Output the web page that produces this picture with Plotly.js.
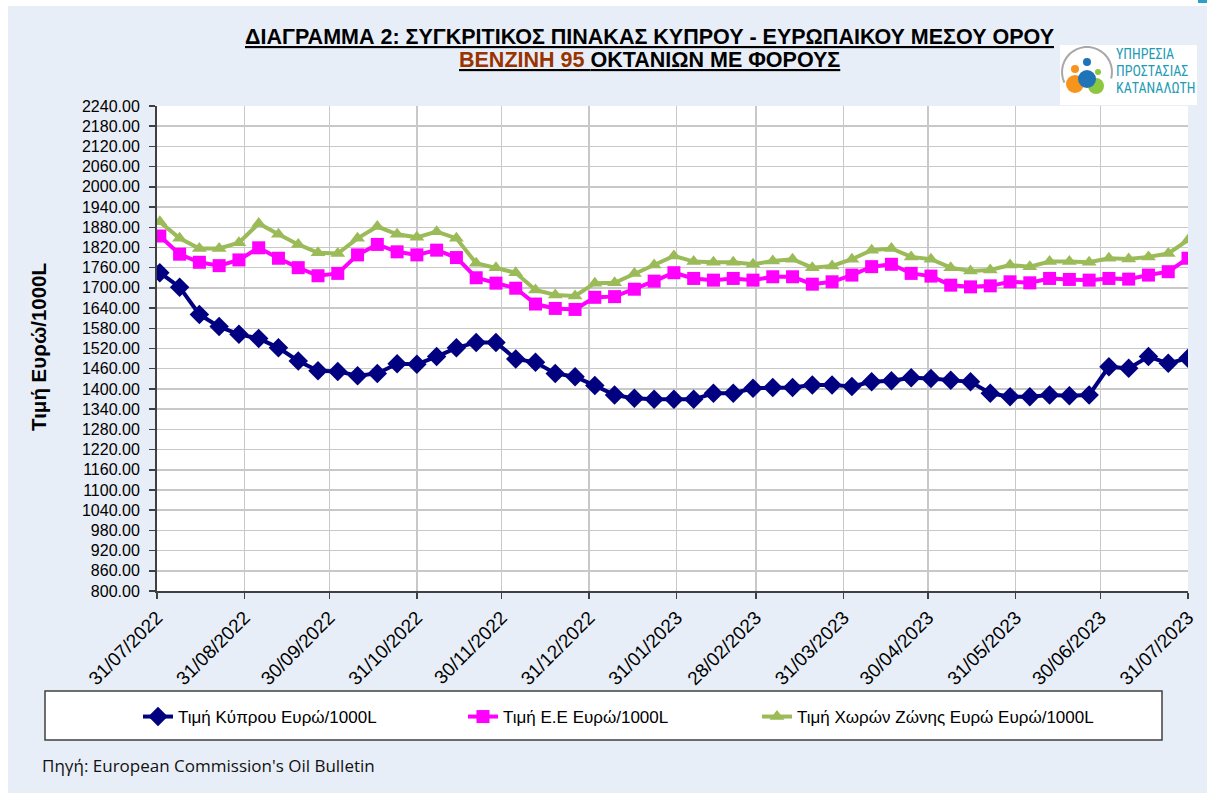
<!DOCTYPE html>
<html><head><meta charset="utf-8">
<script src="https://cdn.plot.ly/plotly-3.0.1.min.js"></script>
<style>html,body{margin:0;padding:0;background:#fff}#chart{width:1207px;height:793px}</style>
</head><body><div id="chart"></div>
<script>
const dates = ['2022-08-01','2022-08-08','2022-08-15','2022-08-22','2022-08-29',
 '2022-09-05','2022-09-12','2022-09-19','2022-09-26',
 '2022-10-03','2022-10-10','2022-10-17','2022-10-24','2022-10-31',
 '2022-11-07','2022-11-14','2022-11-21','2022-11-28',
 '2022-12-05','2022-12-12','2022-12-19','2022-12-26',
 '2023-01-02','2023-01-09','2023-01-16','2023-01-23','2023-01-30',
 '2023-02-06','2023-02-13','2023-02-20','2023-02-27',
 '2023-03-06','2023-03-13','2023-03-20','2023-03-27',
 '2023-04-03','2023-04-10','2023-04-17','2023-04-24',
 '2023-05-01','2023-05-08','2023-05-15','2023-05-22','2023-05-29',
 '2023-06-05','2023-06-12','2023-06-19','2023-06-26',
 '2023-07-03','2023-07-10','2023-07-17','2023-07-24','2023-07-31'];

const cyprus = [1745,1702,1621,1585,1562,1550,1522,1483,1454,1452,1439,1446,1475,
 1473,1496,1522,1538,1538,1489,1479,1446,1436,1410,1382,1372,1369,
 1369,1369,1387,1387,1402,1404,1404,1412,1412,1407,1421,1424,1433,
 1431,1426,1421,1387,1377,1377,1382,1380,1382,1466,1461,1496,1476,1491];

const eu = [1854,1800,1776,1766,1783,1819,1788,1760,1736,1743,1798,1829,1807,
 1798,1812,1790,1730,1714,1699,1652,1639,1636,1672,1674,1696,1720,
 1745,1728,1723,1728,1723,1733,1733,1711,1718,1738,1763,1770,1743,
 1735,1708,1703,1706,1718,1715,1728,1725,1723,1728,1726,1738,1748,1788];

const euroArea = [1896,1847,1817,1817,1834,1891,1859,1829,1804,1802,1847,1882,1859,
 1850,1867,1847,1773,1760,1745,1694,1679,1676,1714,1715,1743,1768,
 1795,1778,1776,1776,1770,1780,1785,1760,1765,1785,1812,1817,1792,
 1785,1760,1750,1753,1768,1763,1778,1778,1776,1788,1786,1792,1802,1842];

const seriesNames = ['Τιμή Κύπρου Ευρώ/1000L','Τιμή Ε.Ε Ευρώ/1000L','Τιμή Χωρών Ζώνης Ευρώ Ευρώ/1000L'];

const tickDates = ['2022-07-31','2022-08-31','2022-09-30','2022-10-31','2022-11-30','2022-12-31',
 '2023-01-31','2023-02-28','2023-03-31','2023-04-30','2023-05-31','2023-06-30','2023-07-31'];
const tickLabels = ['31/07/2022','31/08/2022','30/09/2022','31/10/2022','30/11/2022','31/12/2022',
 '31/01/2023','28/02/2023','31/03/2023','30/04/2023','31/05/2023','30/06/2023','31/07/2023'];

const titleLine1 = 'ΔΙΑΓΡΑΜΜΑ 2: ΣΥΓΚΡΙΤΙΚΟΣ ΠΙΝΑΚΑΣ ΚΥΠΡΟΥ - ΕΥΡΩΠΑΙΚΟΥ ΜΕΣΟΥ ΟΡΟΥ';
const titleLine2a = 'ΒΕΝΖΙΝΗ 95 ';
const titleLine2b = 'ΟΚΤΑΝΙΩΝ ΜΕ ΦΟΡΟΥΣ';
const yTitle = 'Τιμή Ευρώ/1000L';
const sourceText = "Πηγή: European Commission's Oil Bulletin";
const logoLines = ['ΥΠΗΡΕΣΙΑ','ΠΡΟΣΤΑΣΙΑΣ','ΚΑΤΑΝΑΛΩΤΗ'];

// pixel -> paper helpers (plot area 157..1188 x 106..591)
const L = 157, R = 1188, T = 106, B = 591;
const X = px => (px - L) / (R - L);
const Y = py => (B - py) / (B - T);

const FONT = 'Liberation Sans, Arial, sans-serif';

const traces = [
  {x: dates, y: cyprus, name: seriesNames[0], type: 'scatter', mode: 'lines+markers', legend: 'legend',
   line: {color: '#000080', width: 4}, marker: {symbol: 'diamond', size: 15, color: '#000080'}},
  {x: dates, y: eu, name: seriesNames[1], type: 'scatter', mode: 'lines+markers', legend: 'legend2',
   line: {color: '#ff00ff', width: 4}, marker: {symbol: 'square', size: 13, color: '#ff00ff'}},
  {x: dates, y: euroArea, name: seriesNames[2], type: 'scatter', mode: 'lines+markers', legend: 'legend3',
   line: {color: '#9bbb59', width: 4}, marker: {symbol: 'triangle-up', size: 13, color: '#9bbb59'}}
];

// logo ring arc points
const arcPts = [];
for (let a = 205; a >= -15; a -= 10) {
  const r = a * Math.PI / 180;
  arcPts.push([X(1087 + 25 * Math.cos(r)), Y(72 - 25 * Math.sin(r))]);
}
const arcPath = 'M' + arcPts.map(p => p[0].toFixed(5) + ',' + p[1].toFixed(5)).join(' L');

function circ(cx, cy, r, color) {
  return {type: 'circle', xref: 'paper', yref: 'paper', x0: X(cx - r), x1: X(cx + r),
    y0: Y(cy + r), y1: Y(cy - r), fillcolor: color, line: {width: 0}, layer: 'above'};
}

const shapes = [
  {type: 'rect', xref: 'paper', yref: 'paper', x0: X(0), x1: X(1207), y0: Y(6), y1: Y(0),
   fillcolor: '#ffffff', line: {width: 0}},
  {type: 'rect', xref: 'paper', yref: 'paper', x0: X(0), x1: X(8), y0: Y(793), y1: Y(0),
   fillcolor: '#ffffff', line: {width: 0}},
  {type: 'rect', xref: 'paper', yref: 'paper', x0: X(1198), x1: X(1207), y0: Y(3), y1: Y(0),
   fillcolor: '#2a9fc9', line: {width: 0}},
  // legend box
  {type: 'rect', xref: 'paper', yref: 'paper', x0: X(45), x1: X(1162), y0: Y(740), y1: Y(691),
   fillcolor: '#ffffff', line: {color: '#404040', width: 1.5}, layer: 'below'},
  // logo
  {type: 'rect', xref: 'paper', yref: 'paper', x0: X(1060), x1: X(1197), y0: Y(105), y1: Y(45),
   fillcolor: '#ffffff', line: {width: 0}, layer: 'above'},
  {type: 'path', xref: 'paper', yref: 'paper', path: arcPath, line: {color: '#a8a8a8', width: 2}, layer: 'above'},
  circ(1075, 84, 9, '#f7941d'),
  circ(1096, 86, 8, '#8dc63f'),
  circ(1087, 79, 9, '#1f73b7'),
  circ(1087, 62, 4, '#1f73b7'),
  circ(1075, 69, 4, '#f7941d'),
  circ(1098, 72, 3, '#8dc63f')
];

const annotations = [
  {xref: 'paper', yref: 'paper', x: X(649), y: Y(37), xanchor: 'center', yanchor: 'middle', showarrow: false,
   text: '<b><u>' + titleLine1 + '</u></b>', font: {family: FONT, size: 21.5, color: '#000'}},
  {xref: 'paper', yref: 'paper', x: X(649), y: Y(60), xanchor: 'center', yanchor: 'middle', showarrow: false,
   text: '<b><u><span style="color:#993300">' + titleLine2a + '</span>' + titleLine2b + '</u></b>',
   font: {family: FONT, size: 21.5, color: '#000'}},
  {xref: 'paper', yref: 'paper', x: X(38), y: Y(347), xanchor: 'center', yanchor: 'middle', showarrow: false,
   textangle: -90, text: '<b>' + yTitle + '</b>', font: {family: FONT, size: 20.5, color: '#000'}},
  {xref: 'paper', yref: 'paper', x: X(40), y: Y(765), xanchor: 'left', yanchor: 'middle', showarrow: false,
   text: sourceText, font: {family: 'Open Sans, sans-serif', size: 17, color: '#111'}},
];
logoLines.forEach((t, i) => annotations.push({
  xref: 'paper', yref: 'paper', x: X(1114), y: Y(54 + i * 17), xanchor: 'left', yanchor: 'middle',
  showarrow: false, text: t,
  font: {family: 'Liberation Sans Narrow, Roboto Condensed, Liberation Sans, sans-serif', size: 14, color: '#1e9bb5'}
}));

function leg(px) {
  return {orientation: 'h', x: X(px), xanchor: 'left', y: Y(717), yanchor: 'middle',
    bgcolor: 'rgba(0,0,0,0)', borderwidth: 0,
    font: {family: FONT, size: 17, color: '#000'}};
}

const layout = {
  width: 1207, height: 793,
  margin: {l: L, r: 1207 - R, t: T, b: 793 - B, pad: 0},
  paper_bgcolor: '#e8eef7',
  plot_bgcolor: '#ffffff',
  showlegend: true,
  legend: leg(138),
  legend2: leg(463),
  legend3: leg(757),
  xaxis: {type: 'date', range: ['2022-07-31', '2023-07-31'], tickmode: 'array',
    tickvals: tickDates, ticktext: tickLabels, tickangle: -45,
    tickfont: {family: FONT, size: 19, color: '#000'},
    ticks: 'outside', ticklen: 6, tickcolor: '#404040', tickwidth: 1.5,
    showgrid: true, gridcolor: '#c8c8c8', gridwidth: 1.5,
    showline: true, linecolor: '#404040', linewidth: 2, zeroline: false, fixedrange: true},
  yaxis: {range: [800, 2240], tickmode: 'linear', tick0: 800, dtick: 60, tickformat: '.2f',
    tickfont: {family: FONT, size: 16, color: '#000'},
    ticks: 'outside', ticklen: 6, tickcolor: '#404040', tickwidth: 1.5, ticklabelstandoff: 6,
    showgrid: true, gridcolor: '#c8c8c8', gridwidth: 1.5,
    showline: true, linecolor: '#404040', linewidth: 2, zeroline: false, fixedrange: true},
  shapes: shapes,
  annotations: annotations
};

Plotly.newPlot('chart', traces, layout, {displayModeBar: false, staticPlot: true});
</script></body></html>
